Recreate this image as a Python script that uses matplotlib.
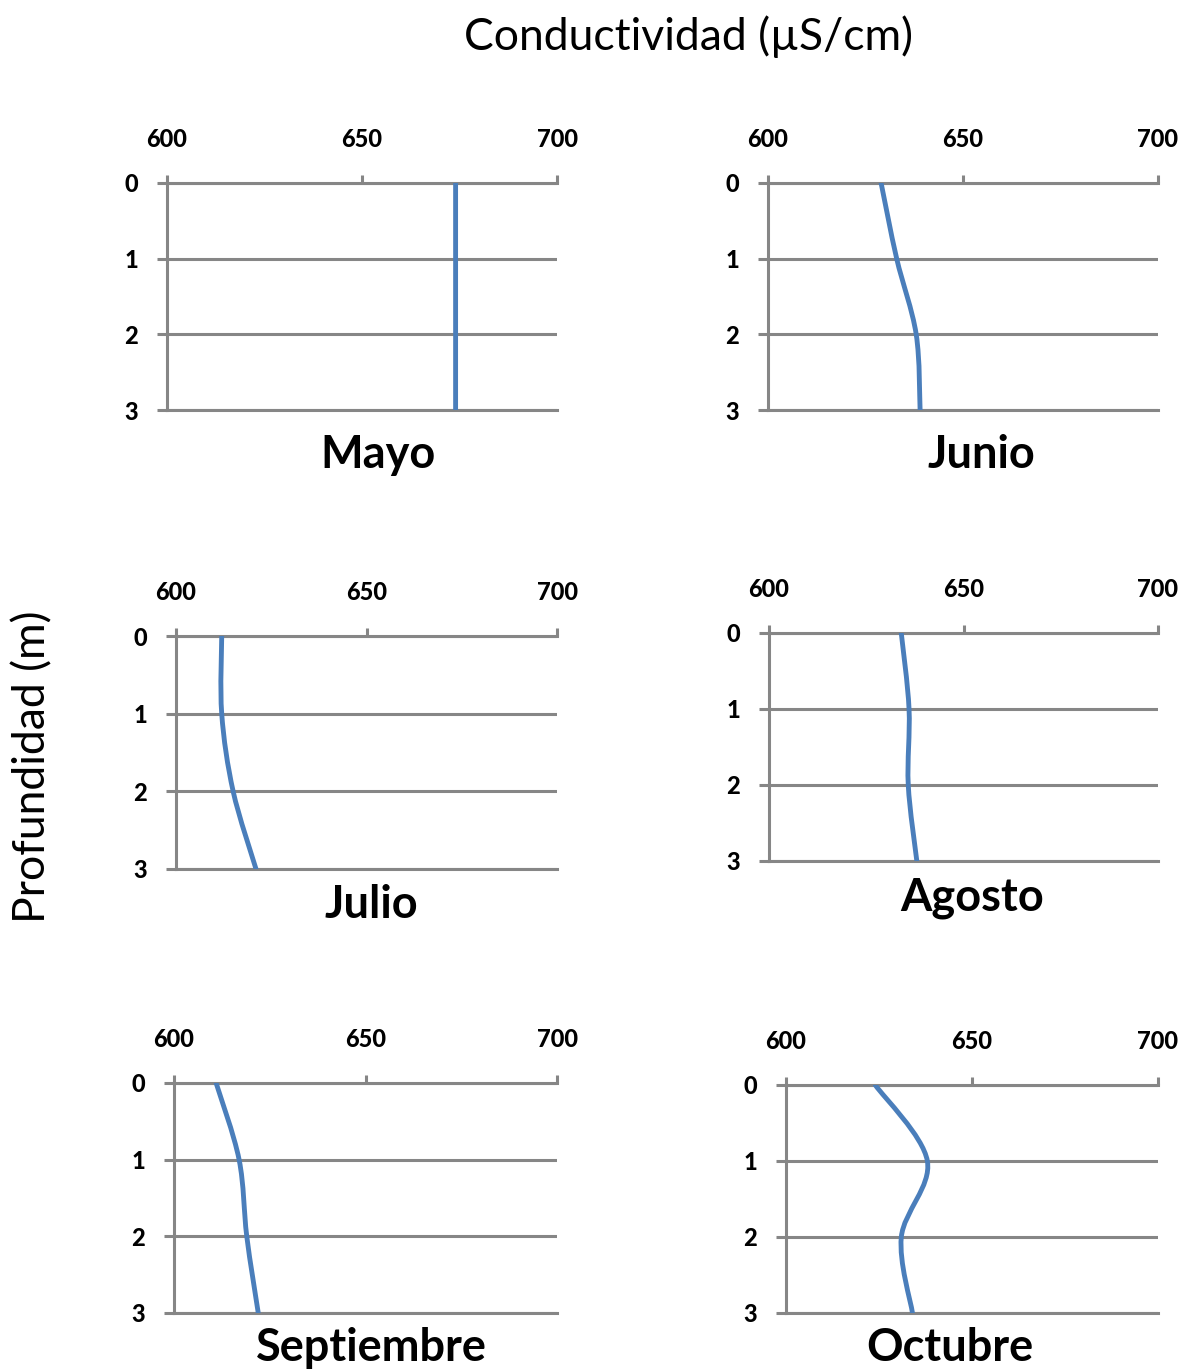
import numpy as np
import matplotlib
matplotlib.use('Agg')
import matplotlib.pyplot as plt
from matplotlib.path import Path
from matplotlib.patches import PathPatch

plt.rcParams['font.family'] = ['Lato', 'DejaVu Sans']

depth = [0, 1, 2, 3]
months = ['Mayo', 'Junio', 'Julio', 'Agosto', 'Septiembre', 'Octubre']
mayo = [674, 674, 674, 674]
junio = [629, 633, 638, 639]
julio = [612, 612, 615, 621]
agosto = [634, 636, 635.8, 638]
septiembre = [611, 617, 619, 622]
octubre = [624, 638, 631, 634]
series = [mayo, junio, julio, agosto, septiembre, octubre]
xticks = [600, 650, 700]

W, H = 1182, 1372
# left, right, top, bottom in pixels
boxes = [(167, 557, 183, 410), (768, 1158, 183, 410),
         (176, 557, 636, 869), (769, 1158, 633, 861),
         (174, 557, 1083, 1313), (786, 1158, 1085, 1313)]
title_pos = [(378, 455), (981, 455), (371, 905), (972, 898), (371, 1348), (950, 1348)]

gray = '#868686'
blue = '#4A7EBB'


def smooth_path(xs, ys):
    pts = np.column_stack([xs, ys]).astype(float)
    pad = np.vstack([pts[0], pts, pts[-1]])
    verts = [pts[0]]
    codes = [Path.MOVETO]
    for i in range(len(pts) - 1):
        p0, p1, p2, p3 = pad[i], pad[i + 1], pad[i + 2], pad[i + 3]
        verts += [p1 + (p2 - p0) / 6, p2 - (p3 - p1) / 6, p2]
        codes += [Path.CURVE4] * 3
    return Path(verts, codes)


fig = plt.figure(figsize=(W / 100, H / 100), dpi=100)

for name, vals, (l, r, t, b), (tx, ty) in zip(months, series, boxes, title_pos):
    ax = fig.add_axes([l / W, 1 - b / H, (r - l) / W, (b - t) / H])
    ax.set_xlim(600, 700)
    ax.set_ylim(3, 0)
    ax.xaxis.tick_top()
    ax.set_xticks(xticks)
    ax.set_yticks(depth)
    for s in ['top', 'left', 'bottom']:
        ax.spines[s].set_color(gray)
        ax.spines[s].set_linewidth(2.2)
    ax.spines['right'].set_visible(False)
    ax.yaxis.grid(True, color=gray, linewidth=2.2)
    ax.set_axisbelow(True)
    ax.tick_params(axis='x', length=6, width=2.2, color=gray, pad=17, labelsize=17)
    ax.tick_params(axis='y', length=7, width=2.2, color=gray, pad=14, labelsize=17)
    plt.setp(ax.get_xticklabels() + ax.get_yticklabels(), fontweight='black')
    patch = PathPatch(smooth_path(vals, depth), facecolor='none', edgecolor=blue,
                      linewidth=3.5, capstyle='round', zorder=3)
    ax.add_patch(patch)
    fig.text(tx / W, 1 - ty / H, name, ha='center', va='center',
             fontsize=32.5, fontweight='bold')

fig.text(688 / W, 1 - 37 / H, 'Conductividad (µS/cm)', ha='center', va='center', fontsize=32)
fig.text(33 / W, 1 - 767 / H, 'Profundidad (m)', ha='center', va='center',
         rotation=90, fontsize=32)

fig.savefig('out.png', dpi=100)
